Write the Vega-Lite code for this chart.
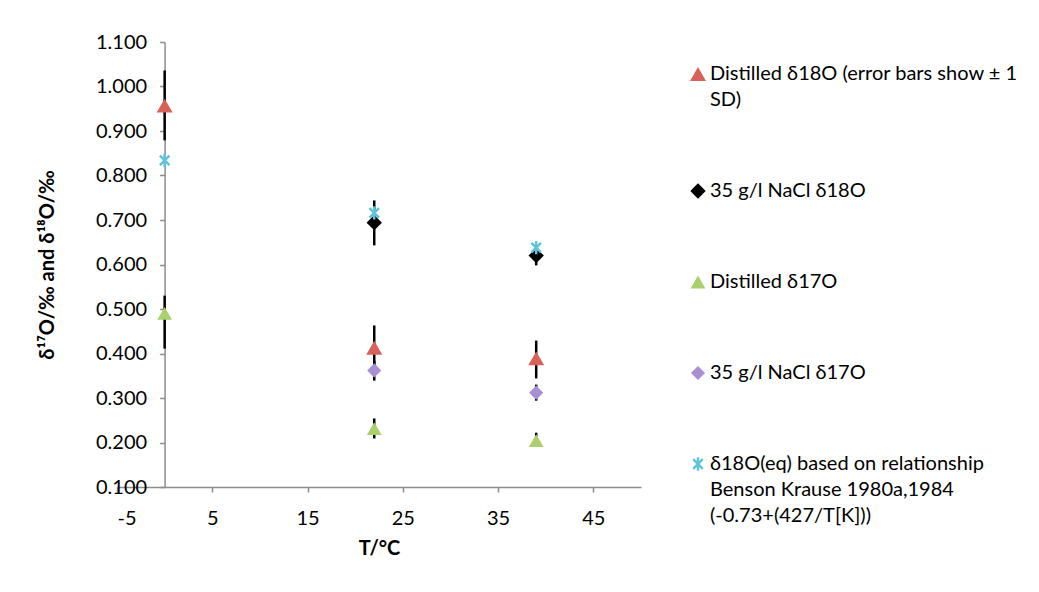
{
  "$schema": "https://vega.github.io/schema/vega-lite/v6.json",
  "width": 524,
  "height": 445,
  "autosize": {"type": "none"},
  "padding": {"left": 117, "top": 42, "right": 398, "bottom": 105},
  "background": "white",
  "config": {
    "font": "Lato",
    "view": {"stroke": null},
    "style": {"guide-label": {"lineHeight": 26}},
    "axis": {
      "grid": false,
      "domainColor": "#8c8c8c",
      "domainWidth": 1.5,
      "tickColor": "#8c8c8c",
      "tickWidth": 1.5,
      "tickSize": 5,
      "labelFontSize": 20,
      "labelColor": "#000000",
      "titleFontSize": 20,
      "titleFontWeight": "bold",
      "titleColor": "#000000"
    }
  },
  "data": {
    "values": [
      {"series": "Distilled δ18O (error bars show ± 1 SD)", "T": 0, "value": 0.957, "lo": 0.879, "hi": 1.036},
      {"series": "Distilled δ18O (error bars show ± 1 SD)", "T": 22, "value": 0.413, "lo": 0.368, "hi": 0.463},
      {"series": "Distilled δ18O (error bars show ± 1 SD)", "T": 39, "value": 0.389, "lo": 0.344, "hi": 0.429},
      {"series": "35 g/l NaCl δ18O", "T": 22, "value": 0.694, "lo": 0.643, "hi": 0.744},
      {"series": "35 g/l NaCl δ18O", "T": 39, "value": 0.620, "lo": 0.598, "hi": 0.643},
      {"series": "Distilled δ17O", "T": 0, "value": 0.490, "lo": 0.411, "hi": 0.530},
      {"series": "Distilled δ17O", "T": 22, "value": 0.231, "lo": 0.209, "hi": 0.254},
      {"series": "Distilled δ17O", "T": 39, "value": 0.204, "lo": 0.191, "hi": 0.222},
      {"series": "35 g/l NaCl δ17O", "T": 22, "value": 0.362, "lo": 0.339, "hi": 0.384},
      {"series": "35 g/l NaCl δ17O", "T": 39, "value": 0.312, "lo": 0.294, "hi": 0.330},
      {"series": "δ18O(eq) based on relationship Benson Krause 1980a,1984 (-0.73+(427/T[K]))", "T": 0, "value": 0.834},
      {"series": "δ18O(eq) based on relationship Benson Krause 1980a,1984 (-0.73+(427/T[K]))", "T": 22, "value": 0.716},
      {"series": "δ18O(eq) based on relationship Benson Krause 1980a,1984 (-0.73+(427/T[K]))", "T": 39, "value": 0.638}
    ]
  },
  "layer": [
    {
      "transform": [{"filter": "isValid(datum.lo)"}],
      "mark": {"type": "rule", "color": "#000000", "strokeWidth": 2.5},
      "encoding": {
        "x": {
          "field": "T", "type": "quantitative",
          "scale": {"domain": [-5, 50], "nice": false, "zero": false},
          "axis": {"title": "T/°C", "values": [-5, 5, 15, 25, 35, 45], "labelExpr": "'' + datum.value", "labelPadding": 16, "titlePadding": 10}
        },
        "y": {
          "field": "lo", "type": "quantitative",
          "scale": {"domain": [0.1, 1.1], "nice": false, "zero": false},
          "axis": {"title": "δ¹⁷O/‰ and δ¹⁸O/‰", "values": [0.1, 0.2, 0.3, 0.4, 0.5, 0.6, 0.7, 0.8, 0.9, 1.0, 1.1], "format": ".3f", "offset": -47.6, "labelPadding": 13, "titlePadding": 38}
        },
        "y2": {"field": "hi"}
      }
    },
    {
      "mark": {"type": "point", "filled": true, "opacity": 1},
      "encoding": {
        "x": {
          "field": "T", "type": "quantitative",
          "scale": {"domain": [-5, 50], "nice": false, "zero": false},
          "axis": {"title": "T/°C", "values": [-5, 5, 15, 25, 35, 45], "labelExpr": "'' + datum.value", "labelPadding": 16, "titlePadding": 10}
        },
        "y": {
          "field": "value", "type": "quantitative",
          "scale": {"domain": [0.1, 1.1], "nice": false, "zero": false},
          "axis": {"title": "δ¹⁷O/‰ and δ¹⁸O/‰", "values": [0.1, 0.2, 0.3, 0.4, 0.5, 0.6, 0.7, 0.8, 0.9, 1.0, 1.1], "format": ".3f", "offset": -47.6, "labelPadding": 13, "titlePadding": 38}
        },
        "color": {
          "field": "series", "type": "nominal",
          "scale": {
            "domain": ["Distilled δ18O (error bars show ± 1 SD)", "35 g/l NaCl δ18O", "Distilled δ17O", "35 g/l NaCl δ17O", "δ18O(eq) based on relationship Benson Krause 1980a,1984 (-0.73+(427/T[K]))"],
            "range": ["#d7625a", "#000000", "#a9d06d", "#a890d3", "#5fc3db"]
          },
          "legend": {
            "title": null,
            "orient": "none",
            "legendX": 571,
            "legendY": 22,
            "labelFontSize": 20,
            "labelColor": "#000000",
            "labelLimit": 400,
            "labelOffset": 2,
            "rowPadding": 71,
            "labelExpr": "indexof(datum.label, 'error') >= 0 ? ['Distilled δ18O (error bars show ± 1', 'SD)'] : indexof(datum.label, 'Benson') >= 0 ? ['δ18O(eq) based on relationship', 'Benson Krause 1980a,1984', '(-0.73+(427/T[K]))'] : datum.label"
          }
        },
        "shape": {
          "field": "series", "type": "nominal",
          "scale": {
            "domain": ["Distilled δ18O (error bars show ± 1 SD)", "35 g/l NaCl δ18O", "Distilled δ17O", "35 g/l NaCl δ17O", "δ18O(eq) based on relationship Benson Krause 1980a,1984 (-0.73+(427/T[K]))"],
            "range": ["triangle-up", "diamond", "triangle-up", "diamond", "M-0.18,-1L0.18,-1L0.18,1L-0.18,1ZM-0.58,-0.84L0.84,0.58L0.58,0.84L-0.84,-0.58ZM0.84,-0.58L-0.58,0.84L-0.84,0.58L0.58,-0.84Z"]
          }
        },
        "size": {
          "field": "series", "type": "nominal",
          "scale": {
            "domain": ["Distilled δ18O (error bars show ± 1 SD)", "35 g/l NaCl δ18O", "Distilled δ17O", "35 g/l NaCl δ17O", "δ18O(eq) based on relationship Benson Krause 1980a,1984 (-0.73+(427/T[K]))"],
            "range": [256, 180, 256, 180, 800]
          }
        }
      }
    }
  ]
}
